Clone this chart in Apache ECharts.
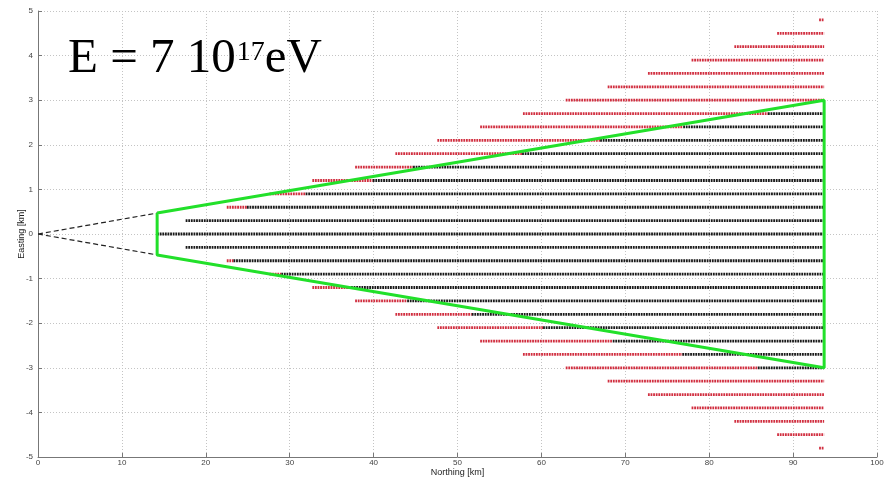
<!DOCTYPE html>
<html>
<head>
<meta charset="utf-8">
<script src="https://cdn.jsdelivr.net/npm/echarts@6/dist/echarts.min.js"></script>
<style>
  html, body { margin: 0; padding: 0; background: #fff; }
  #chart { width: 884px; height: 481px; }
</style>
</head>
<body>
<div id="chart"></div>
<script>
// Antenna rows: easting of each row [km], where the row starts, where the
// in-footprint (black) part begins, and the common far end [km northing].
var rowEasting = [4.8, 4.5, 4.2, 3.9, 3.6, 3.3, 3.0, 2.7, 2.4, 2.1, 1.8, 1.5, 1.2, 0.9, 0.6, 0.3, 0,
                  -0.3, -0.6, -0.9, -1.2, -1.5, -1.8, -2.1, -2.4, -2.7, -3.0, -3.3, -3.6, -3.9, -4.2, -4.5, -4.8];
var rowStart   = [93.1, 88.1, 83.0, 77.9, 72.7, 67.9, 62.9, 57.8, 52.7, 47.6, 42.6, 37.8, 32.7, 27.6, 22.5, 17.6, 14.2,
                  17.6, 22.5, 27.6, 32.7, 37.8, 42.6, 47.6, 52.7, 57.8, 62.9, 67.9, 72.7, 77.9, 83.0, 88.1, 93.1];
var rowSplit   = [93.7, 93.7, 93.7, 93.7, 93.7, 93.7, 93.7, 87.0, 76.9, 67.0, 57.7, 44.7, 39.9, 31.9, 24.9, 17.6, 14.2,
                  17.6, 23.3, 29.0, 37.0, 44.0, 51.7, 60.2, 68.5, 76.8, 85.8, 93.7, 93.7, 93.7, 93.7, 93.7, 93.7];
var rowEnd = 93.7;

// Footprint outline (green) and the projection lines back to the origin
var outlineNorthing = [14.2, 93.7, 93.7, 14.2, 14.2];
var outlineEasting  = [0.47, 3.0, -3.0, -0.47, 0.47];
var projNorthing = [0, 14.2];
var projEastingUp = [0, 0.47];
var projEastingDown = [0, -0.47];

var xTicks = [0, 10, 20, 30, 40, 50, 60, 70, 80, 90, 100];
var yTicks = [-5, -4, -3, -2, -1, 0, 1, 2, 3, 4, 5];

var RED = '#d12f40';
var BLACK = '#1a1a1a';
var GREEN = '#22e02a';

function rowSeries(x0, x1, y, color) {
  return {
    type: 'line',
    data: [[x0, y], [x1, y]],
    symbol: 'none',
    silent: true,
    z: 2,
    lineStyle: { color: color, width: 2.8, type: [1.8, 0.8], cap: 'butt' }
  };
}

var series = [];
rowEasting.forEach(function (e, i) {
  var s = rowStart[i], m = rowSplit[i];
  if (m > s) series.push(rowSeries(s, m, e, RED));
  if (rowEnd > m) series.push(rowSeries(m, rowEnd, e, BLACK));
});

function pairs(xs, ys) { return xs.map(function (x, i) { return [x, ys[i]]; }); }

series.push({
  type: 'line', data: pairs(projNorthing, projEastingUp), symbol: 'none', silent: true, z: 3,
  lineStyle: { color: '#222', width: 1.2, type: [5, 3] }
});
series.push({
  type: 'line', data: pairs(projNorthing, projEastingDown), symbol: 'none', silent: true, z: 3,
  lineStyle: { color: '#222', width: 1.2, type: [5, 3] }
});
series.push({
  type: 'line', data: pairs(outlineNorthing, outlineEasting), symbol: 'none', silent: true, z: 4,
  lineStyle: { color: GREEN, width: 3 }
});

var axisText = { fontFamily: 'Liberation Sans, Arial, sans-serif', fontSize: 8, color: '#444' };
var serif = 'Liberation Serif, Times New Roman, serif';

var chart = echarts.init(document.getElementById('chart'), null, { renderer: 'canvas' });
chart.setOption({
  animation: false,
  backgroundColor: '#fff',
  title: {
    text: '{a|E = 7 10}{s|17}{a|eV}',
    left: 63, top: 30,
    textStyle: {
      fontWeight: 'normal',
      rich: {
        a: { fontFamily: serif, fontSize: 49, fontWeight: 'normal', color: '#000', verticalAlign: 'bottom' },
        s: { fontFamily: serif, fontSize: 28, fontWeight: 'normal', color: '#000', verticalAlign: 'top', padding: [4, 0, 0, 1] }
      }
    }
  },
  grid: { left: 38, right: 7, top: 11, bottom: 24, containLabel: false, outerBoundsMode: 'none' },
  xAxis: {
    type: 'value', min: xTicks[0], max: xTicks[xTicks.length - 1], interval: 10,
    name: 'Northing [km]', nameLocation: 'middle', nameGap: 11, nameMoveOverlap: false,
    nameTextStyle: { fontFamily: 'Liberation Sans, Arial, sans-serif', fontSize: 9, color: '#222' },
    axisLine: { show: true, onZero: false, lineStyle: { color: '#777', width: 1 } },
    axisTick: { show: true, inside: true, length: 4, lineStyle: { color: '#777' } },
    axisLabel: Object.assign({ margin: 2 }, axisText),
    splitLine: { show: true, lineStyle: { color: '#c4c4c4', type: [1, 2], width: 1 } }
  },
  yAxis: {
    type: 'value', min: yTicks[0], max: yTicks[yTicks.length - 1], interval: 1,
    name: 'Easting [km]', nameLocation: 'middle', nameGap: 12, nameMoveOverlap: false,
    nameTextStyle: { fontFamily: 'Liberation Sans, Arial, sans-serif', fontSize: 9, color: '#222' },
    axisLine: { show: true, onZero: false, lineStyle: { color: '#777', width: 1 } },
    axisTick: { show: true, inside: true, length: 4, lineStyle: { color: '#777' } },
    axisLabel: Object.assign({ margin: 5 }, axisText),
    splitLine: { show: true, lineStyle: { color: '#c4c4c4', type: [1, 2], width: 1 } }
  },
  series: series
});
</script>
</body>
</html>
